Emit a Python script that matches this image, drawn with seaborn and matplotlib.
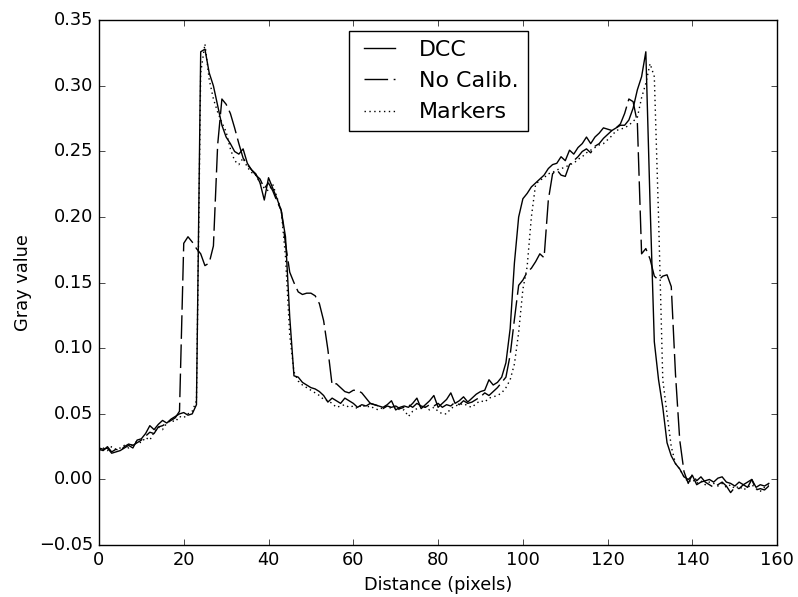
import numpy as np
import pandas as pd
import matplotlib
matplotlib.use('Agg')
import matplotlib.pyplot as plt
import seaborn as sns

# profile sampled every pixel, 0..158
dist = np.arange(159)

names = ['DCC', 'No Calib.', 'Markers']

dcc = [
    0.024, 0.023, 0.024, 0.020, 0.021, 0.022, 0.024, 0.026, 0.024, 0.030,
    0.031, 0.035, 0.041, 0.038, 0.042, 0.045, 0.043, 0.046, 0.048, 0.050,
    0.051, 0.049, 0.050, 0.057, 0.326, 0.328, 0.310, 0.300, 0.285, 0.270,
    0.261, 0.256, 0.250, 0.248, 0.252, 0.241, 0.236, 0.233, 0.226, 0.213,
    0.230, 0.222, 0.214, 0.205, 0.185, 0.124, 0.079, 0.078, 0.074, 0.072,
    0.070, 0.069, 0.067, 0.064, 0.059, 0.062, 0.060, 0.058, 0.062, 0.060,
    0.058, 0.055, 0.057, 0.056, 0.058, 0.057, 0.056, 0.055, 0.057, 0.060,
    0.053, 0.055, 0.056, 0.055, 0.058, 0.062, 0.054, 0.057, 0.060, 0.064,
    0.055, 0.058, 0.061, 0.066, 0.058, 0.060, 0.063, 0.059, 0.062, 0.065,
    0.067, 0.068, 0.076, 0.072, 0.074, 0.078, 0.089, 0.115, 0.165, 0.200,
    0.214, 0.218, 0.223, 0.226, 0.229, 0.232, 0.237, 0.240, 0.241, 0.246,
    0.243, 0.251, 0.248, 0.253, 0.256, 0.261, 0.256, 0.261, 0.264, 0.268,
    0.267, 0.266, 0.268, 0.270, 0.270, 0.274, 0.283, 0.297, 0.307, 0.326,
    0.210, 0.105, 0.076, 0.055, 0.028, 0.018, 0.012, 0.008, 0.002, 0.000,
    0.003, -0.004, -0.002, -0.001, 0.000, -0.002, 0.001, 0.002, -0.002, -0.003,
    -0.005, -0.002, -0.004, -0.006, 0.000, -0.006, -0.004, -0.005, -0.003,
]

nocal = [
    0.023, 0.022, 0.025, 0.021, 0.023, 0.022, 0.025, 0.027, 0.026, 0.028,
    0.030, 0.033, 0.036, 0.035, 0.040, 0.041, 0.043, 0.045, 0.047, 0.052,
    0.180, 0.185, 0.181, 0.176, 0.172, 0.163, 0.165, 0.178, 0.255, 0.290,
    0.286, 0.279, 0.268, 0.256, 0.245, 0.240, 0.236, 0.232, 0.229, 0.222,
    0.226, 0.220, 0.212, 0.205, 0.180, 0.158, 0.150, 0.143, 0.141, 0.142,
    0.142, 0.140, 0.134, 0.121, 0.099, 0.072, 0.073, 0.070, 0.067, 0.066,
    0.068, 0.068, 0.066, 0.062, 0.058, 0.057, 0.056, 0.054, 0.056, 0.055,
    0.056, 0.054, 0.055, 0.057, 0.055, 0.058, 0.056, 0.055, 0.057, 0.056,
    0.058, 0.055, 0.057, 0.056, 0.059, 0.057, 0.060, 0.058, 0.059, 0.061,
    0.063, 0.066, 0.064, 0.067, 0.070, 0.074, 0.078, 0.095, 0.122, 0.148,
    0.152, 0.158, 0.161, 0.166, 0.172, 0.169, 0.213, 0.233, 0.236, 0.232,
    0.231, 0.240, 0.243, 0.246, 0.250, 0.252, 0.249, 0.254, 0.256, 0.260,
    0.263, 0.266, 0.268, 0.271, 0.279, 0.290, 0.288, 0.272, 0.172, 0.176,
    0.168, 0.155, 0.152, 0.155, 0.156, 0.147, 0.080, 0.030, 0.006, -0.003,
    0.004, -0.001, 0.002, -0.002, -0.004, -0.006, -0.004, -0.002, -0.005, -0.010,
    -0.006, -0.007, -0.004, -0.002, 0.000, -0.008, -0.007, -0.008, -0.005,
]

markers = [
    0.022, 0.024, 0.022, 0.025, 0.023, 0.024, 0.026, 0.024, 0.027, 0.029,
    0.028, 0.032, 0.030, 0.036, 0.040, 0.038, 0.043, 0.045, 0.044, 0.048,
    0.047, 0.050, 0.052, 0.060, 0.310, 0.332, 0.305, 0.290, 0.280, 0.272,
    0.265, 0.252, 0.243, 0.240, 0.245, 0.238, 0.234, 0.232, 0.226, 0.222,
    0.220, 0.225, 0.215, 0.205, 0.170, 0.110, 0.082, 0.075, 0.072, 0.070,
    0.068, 0.066, 0.064, 0.061, 0.060, 0.058, 0.055, 0.056, 0.057, 0.055,
    0.056, 0.054, 0.057, 0.055, 0.056, 0.054, 0.053, 0.055, 0.056, 0.054,
    0.055, 0.053, 0.053, 0.048, 0.052, 0.054, 0.056, 0.055, 0.053, 0.055,
    0.052, 0.050, 0.050, 0.054, 0.056, 0.057, 0.058, 0.056, 0.055, 0.058,
    0.060, 0.059, 0.062, 0.063, 0.064, 0.066, 0.070, 0.076, 0.088, 0.112,
    0.145, 0.162, 0.200, 0.225, 0.228, 0.230, 0.233, 0.234, 0.236, 0.237,
    0.238, 0.240, 0.241, 0.244, 0.246, 0.249, 0.251, 0.253, 0.255, 0.256,
    0.259, 0.262, 0.266, 0.267, 0.268, 0.270, 0.273, 0.276, 0.291, 0.302,
    0.317, 0.307, 0.200, 0.076, 0.050, 0.025, 0.012, 0.008, 0.002, -0.002,
    0.000, -0.003, -0.001, -0.004, -0.002, -0.003, -0.005, -0.003, -0.006, -0.004,
    -0.007, -0.005, -0.008, -0.006, -0.004, -0.007, -0.009, -0.006, -0.004,
]

df = pd.DataFrame({
    'x': np.tile(dist, 3),
    'value': dcc + nocal + markers,
    'series': np.repeat(names, len(dist)),
})

plt.style.use('classic')
plt.rcParams['figure.facecolor'] = 'white'
plt.rcParams['font.size'] = 12.8

fig, ax = plt.subplots(figsize=(7.98, 5.97), dpi=100)
fig.subplots_adjust(left=0.124, right=0.974, top=0.966, bottom=0.087)

sns.lineplot(data=df, x='x', y='value', style='series', style_order=names,
             dashes={'DCC': '', 'No Calib.': (17, 4), 'Markers': (1, 2.5)},
             color='k', lw=1, errorbar=None, legend=False, ax=ax)

ax.set_xlim(0, 160)
ax.set_ylim(-0.05, 0.35)
ax.set_xlabel('Distance (pixels)')
ax.set_ylabel('Gray value')

ax.legend(ax.lines[:3], names, loc='upper center', fontsize=15.9)

plt.savefig('out.png', dpi=100)
